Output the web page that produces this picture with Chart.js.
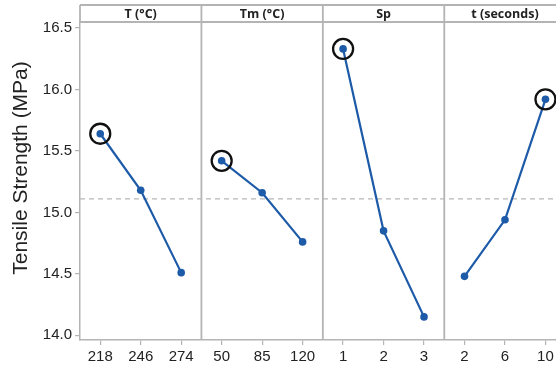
<!DOCTYPE html>
<html>
<head>
<meta charset="utf-8">
<script src="https://cdn.jsdelivr.net/npm/chart.js@4.4.1/dist/chart.umd.min.js"></script>
<style>
  html, body { margin: 0; padding: 0; background: #fff; overflow: hidden; }
  #wrap { width: 556px; height: 370px; overflow: hidden; position: relative; }
  #chart { position: absolute; left: 0; top: 0; }
</style>
</head>
<body>
<div id="wrap"><canvas id="chart" width="578" height="370"></canvas></div>
<script>
const xLabels = ['218', '246', '274', '50', '85', '120', '1', '2', '3', '2', '6', '10'];
const panelTitles = ['T (°C)', 'Tm (°C)', 'Sp', 't (seconds)'];
const tempValues = [15.64, 15.18, 14.51];
const tmValues = [15.42, 15.16, 14.76];
const spValues = [16.33, 14.85, 14.15];
const timeValues = [14.48, 14.94, 15.92];
const grandMean = 15.11;
const yTicks = [14.0, 14.5, 15.0, 15.5, 16.0, 16.5];
const yTitle = 'Tensile Strength (MPa)';

const BLUE = '#1d5aa8';
const GREY = '#b4b4b4';

const panels = [tempValues, tmValues, spValues, timeValues];

// each factor only has values in its own three categories
const padPanel = (vals, p) => {
  const arr = new Array(xLabels.length).fill(null);
  vals.forEach((v, i) => { arr[p * 3 + i] = v; });
  return arr;
};

const datasets = panels.map((vals, p) => ({
  data: padPanel(vals, p),
  borderColor: BLUE,
  backgroundColor: BLUE,
  borderWidth: 2.2,
  pointRadius: 3.8,
  pointBorderWidth: 0,
  spanGaps: false,
  order: 2
}));

// ring around the best level of each factor
const best = new Array(xLabels.length).fill(null);
panels.forEach((vals, p) => {
  const i = vals.indexOf(Math.max(...vals));
  best[p * 3 + i] = vals[i];
});
datasets.push({
  data: best,
  showLine: false,
  pointRadius: 10,
  pointBorderWidth: 2.3,
  pointBorderColor: '#111',
  pointBackgroundColor: 'rgba(0,0,0,0)',
  order: 1
});

const panelPlugin = {
  id: 'panels',
  beforeDatasetsDraw(chart) {
    const {ctx, chartArea: a, scales: {x, y}} = chart;
    const stripTop = 5;
    ctx.save();
    // mean line
    const ym = y.getPixelForValue(grandMean);
    ctx.strokeStyle = '#b8b8b8';
    ctx.lineWidth = 1.3;
    ctx.setLineDash([5, 4]);
    ctx.beginPath();
    ctx.moveTo(a.left, ym);
    ctx.lineTo(a.right, ym);
    ctx.stroke();
    ctx.setLineDash([]);

    // strip box and separators
    ctx.strokeStyle = GREY;
    ctx.lineWidth = 1.8;
    ctx.beginPath();
    ctx.moveTo(a.left, stripTop);
    ctx.lineTo(a.right, stripTop);
    ctx.moveTo(a.left, a.top);
    ctx.lineTo(a.right, a.top);
    ctx.moveTo(a.left, stripTop);
    ctx.lineTo(a.left, a.top);
    for (let p = 1; p < panels.length; p++) {
      const xs = (x.getPixelForValue(p * 3 - 1) + x.getPixelForValue(p * 3)) / 2;
      ctx.moveTo(xs, stripTop);
      ctx.lineTo(xs, a.bottom);
    }
    ctx.stroke();

    ctx.fillStyle = '#222';
    ctx.font = 'bold 12.5px "Open Sans"';
    ctx.textAlign = 'center';
    ctx.textBaseline = 'middle';
    panelTitles.forEach((t, p) => {
      const xc = x.getPixelForValue(p * 3 + 1);
      ctx.fillText(t, xc, (stripTop + a.top) / 2 + 0.5);
    });

    // y axis title
    ctx.translate(21, 168);
    ctx.rotate(-Math.PI / 2);
    ctx.font = '21px "Liberation Sans", Arial';
    ctx.fillText(yTitle, 0, 0);
    ctx.restore();
  }
};

new Chart(document.getElementById('chart'), {
  type: 'line',
  data: { labels: xLabels, datasets: datasets },
  options: {
    responsive: false,
    animation: false,
    // the last panel runs past the right edge of the picture
    layout: { padding: { top: 22, right: 1, left: 0, bottom: 0 } },
    plugins: { legend: { display: false }, tooltip: { enabled: false } },
    scales: {
      x: {
        type: 'category',
        offset: true,
        grid: { offset: false, drawOnChartArea: false, tickLength: 5, color: GREY, lineWidth: 1.2 },
        border: { color: GREY, width: 1.5 },
        ticks: { color: '#222', font: { family: '"Liberation Sans", Arial', size: 15 }, padding: 3, maxRotation: 0, autoSkip: false },
        afterFit: s => { s.height = 30; }
      },
      y: {
        min: 13.962,
        max: 16.549,
        afterBuildTicks: s => { s.ticks = yTicks.map(v => ({ value: v })); },
        grid: { drawOnChartArea: false, tickLength: 5, color: GREY, lineWidth: 1.2 },
        border: { color: GREY, width: 1.5 },
        ticks: { color: '#222', font: { family: '"Liberation Sans", Arial', size: 15 }, padding: 3, callback: v => v.toFixed(1) },
        afterFit: s => { s.width = 80; }
      }
    }
  },
  plugins: [panelPlugin]
});
</script>
</body>
</html>
